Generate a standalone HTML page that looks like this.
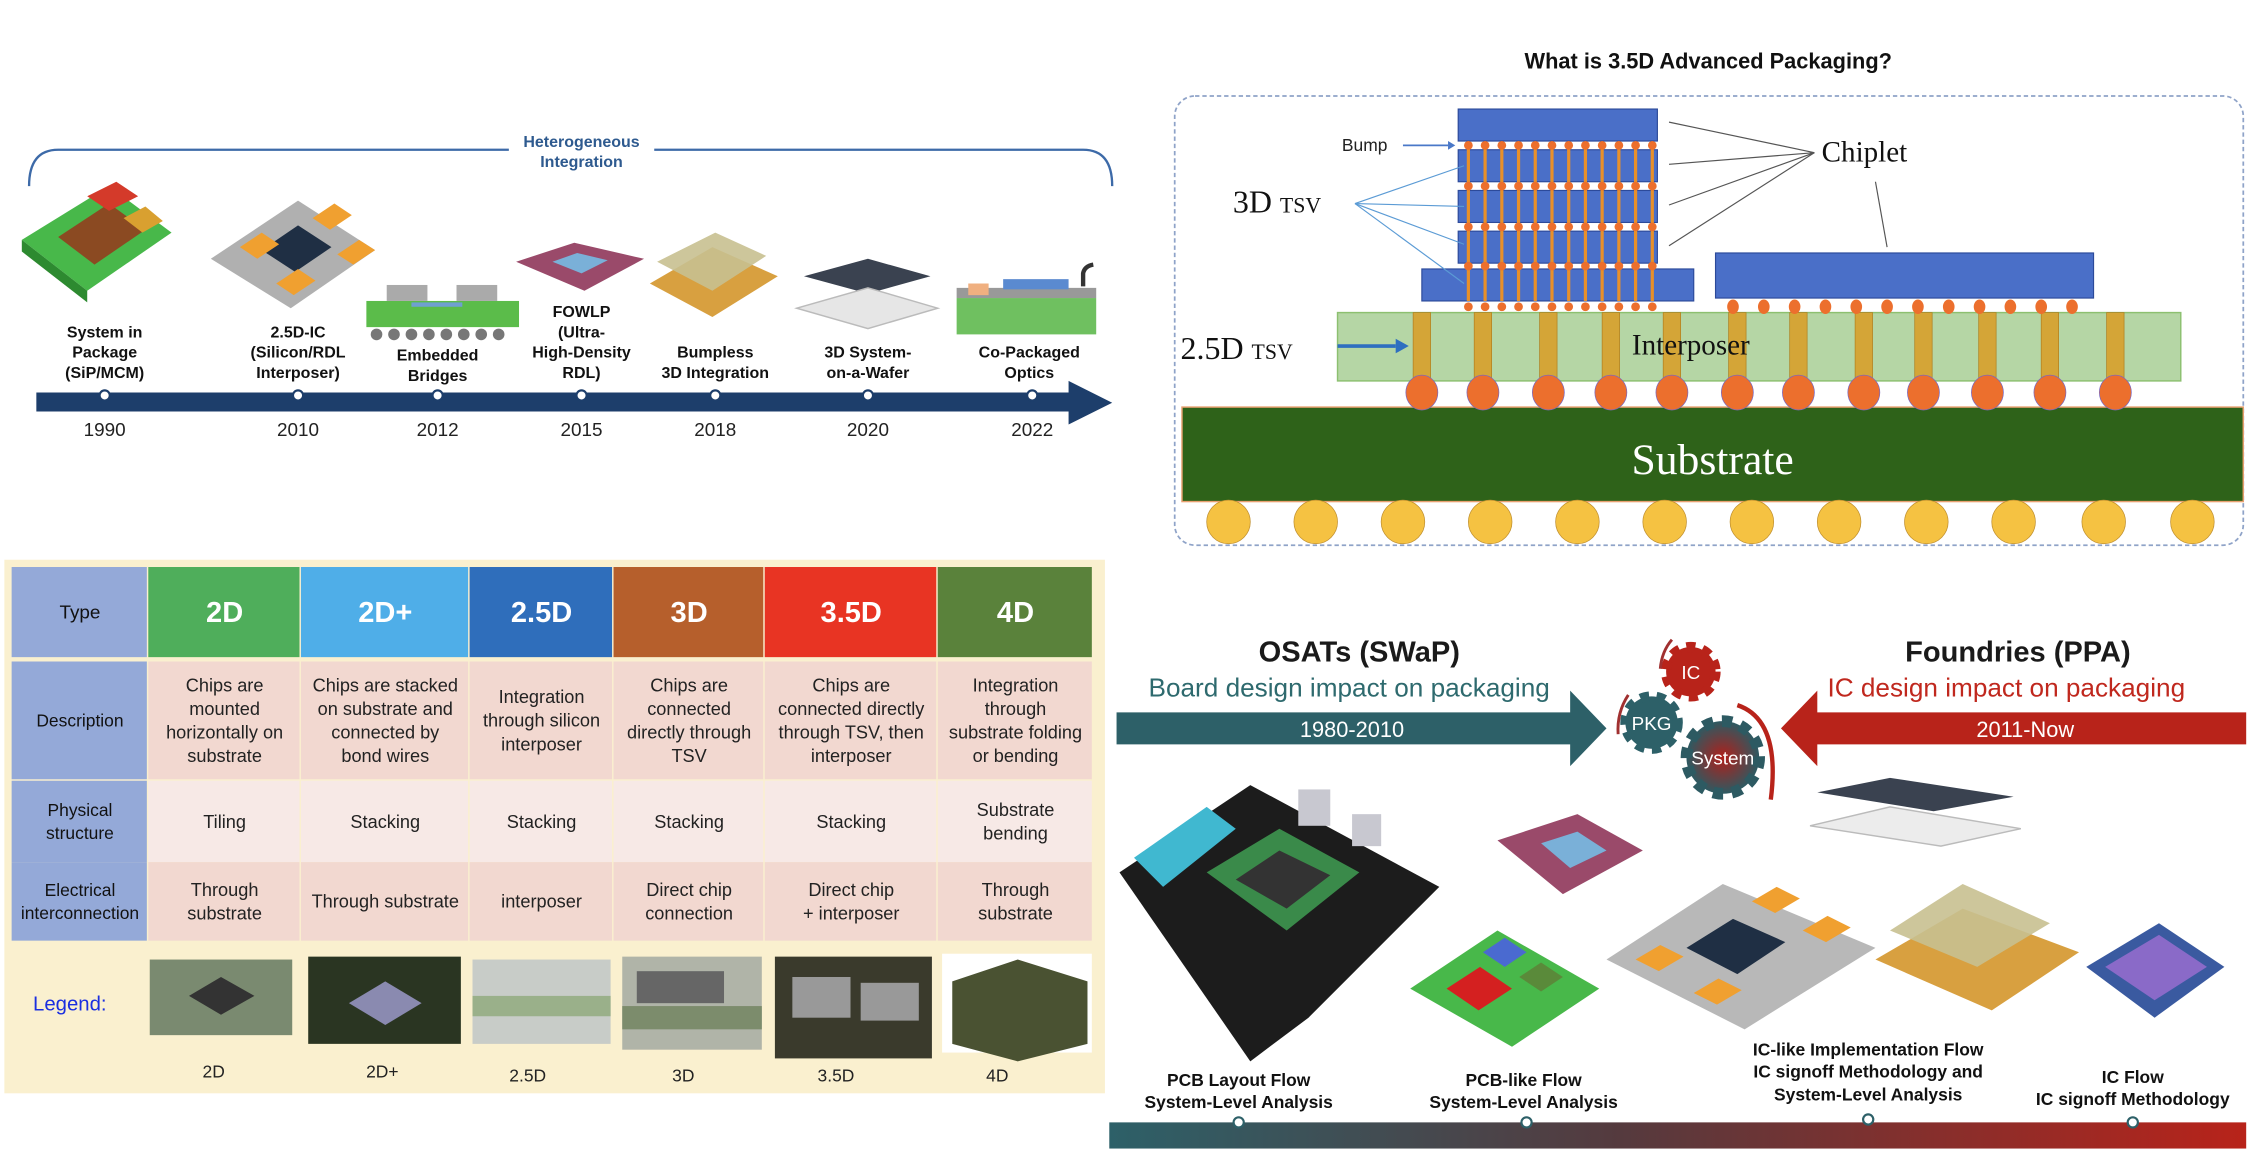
<!DOCTYPE html>
<html><head><meta charset="utf-8"><style>
html,body{margin:0;padding:0;background:#fff;width:2268px;height:1158px;overflow:hidden}
svg{display:block}
text{font-family:"Liberation Sans",sans-serif}
.b{font-weight:bold}
.serif{font-family:"Liberation Serif",serif}
</style></head><body>
<svg id="root" width="2268" height="1158" viewBox="0 0 1560 796.5" xmlns="http://www.w3.org/2000/svg">
<defs>
<linearGradient id="barG" x1="0" x2="1"><stop offset="0" stop-color="#2d6068"/><stop offset="0.45" stop-color="#553a3e"/><stop offset="1" stop-color="#b8231a"/></linearGradient>
<radialGradient id="sysG"><stop offset="0" stop-color="#b01f1a"/><stop offset="1" stop-color="#2d5a62"/></radialGradient>
</defs>

<!-- ================= TIMELINE (top-left) ================= -->
<g>
<path d="M20,128 Q20,103 40,103 L350,103 M450,103 L745,103 Q765,103 765,128" fill="none" stroke="#3d6aa8" stroke-width="1.6"/>
<text x="400" y="101" text-anchor="middle" font-size="11" class="b" fill="#2e5a8f">Heterogeneous</text>
<text x="400" y="115" text-anchor="middle" font-size="11" class="b" fill="#2e5a8f">Integration</text>
<!-- images -->
<g><polygon points="15,165 75,128 118,160 60,200" fill="#48b84a"/><polygon points="40,163 75,140 100,158 65,182" fill="#8b4a22"/><polygon points="60,135 80,125 95,135 75,145" fill="#d43a2a"/><polygon points="85,150 100,142 112,152 98,160" fill="#d9a030"/><polygon points="15,165 60,200 60,208 15,173" fill="#2d8a30"/></g>
<g><polygon points="145,178 205,138 258,172 200,212" fill="#b0b0b0"/><polygon points="180,172 205,155 228,170 203,187" fill="#1f2f44"/><polygon points="165,170 180,160 192,168 177,178" fill="#f0a030"/><polygon points="215,150 230,140 242,148 227,158" fill="#f0a030"/><polygon points="232,175 247,165 258,172 243,182" fill="#f0a030"/><polygon points="190,195 205,185 217,193 202,203" fill="#f0a030"/></g>
<g><rect x="252" y="207" width="105" height="18" fill="#5bbc4a"/><rect x="266" y="196" width="28" height="11" fill="#aaa"/><rect x="314" y="196" width="28" height="11" fill="#aaa"/><rect x="283" y="208" width="35" height="3" fill="#6fa0d0"/><g fill="#777"><circle cx="259" cy="230" r="4"/><circle cx="271" cy="230" r="4"/><circle cx="283" cy="230" r="4"/><circle cx="295" cy="230" r="4"/><circle cx="307" cy="230" r="4"/><circle cx="319" cy="230" r="4"/><circle cx="331" cy="230" r="4"/><circle cx="343" cy="230" r="4"/></g></g>
<g><polygon points="355,180 395,167 443,178 402,200" fill="#9a4a6a"/><polygon points="380,180 397,174 418,179 400,188" fill="#7ab0d8"/></g>
<g><polygon points="447,195 490,170 535,190 490,218" fill="#d8a040"/><polygon points="452,180 492,160 527,176 490,200" fill="#c8c090" opacity="0.9"/></g>
<g><polygon points="553,190 597,178 640,190 597,202" fill="#3a4250"/><polygon points="548,212 597,198 645,212 597,226" fill="#e6e6e6" stroke="#bbb"/></g>
<g><rect x="658" y="205" width="96" height="25" fill="#6fc060"/><rect x="658" y="198" width="96" height="7" fill="#999"/><rect x="690" y="192" width="45" height="7" fill="#5a8ad0"/><rect x="666" y="195" width="14" height="8" fill="#f0b080"/><path d="M745,197 L745,188 Q746,183 752,182" stroke="#333" stroke-width="3" fill="none"/></g>
<!-- labels -->
<g font-size="11" class="b" fill="#111" text-anchor="middle">
<text x="72" y="232" class="b">System in</text><text x="72" y="246" class="b">Package</text><text x="72" y="260" class="b">(SiP/MCM)</text>
<text x="205" y="232" class="b">2.5D-IC</text><text x="205" y="246" class="b">(Silicon/RDL</text><text x="205" y="260" class="b">Interposer)</text>
<text x="301" y="248" class="b">Embedded</text><text x="301" y="262" class="b">Bridges</text>
<text x="400" y="218" class="b">FOWLP</text><text x="400" y="232" class="b">(Ultra-</text><text x="400" y="246" class="b">High-Density</text><text x="400" y="260" class="b">RDL)</text>
<text x="492" y="246" class="b">Bumpless</text><text x="492" y="260" class="b">3D Integration</text>
<text x="597" y="246" class="b">3D System-</text><text x="597" y="260" class="b">on-a-Wafer</text>
<text x="708" y="246" class="b">Co-Packaged</text><text x="708" y="260" class="b">Optics</text>
</g>
<polygon points="25,270 735,270 735,262 765,277 735,292 735,283 25,283" fill="#1d3e6b"/>
<g fill="#fff" stroke="#1d3e6b" stroke-width="1.5"><circle cx="72" cy="272" r="3.5"/><circle cx="205" cy="272" r="3.5"/><circle cx="301" cy="272" r="3.5"/><circle cx="400" cy="272" r="3.5"/><circle cx="492" cy="272" r="3.5"/><circle cx="597" cy="272" r="3.5"/><circle cx="710" cy="272" r="3.5"/></g>
<g font-size="13" fill="#222" text-anchor="middle">
<text x="72" y="300">1990</text><text x="205" y="300">2010</text><text x="301" y="300">2012</text><text x="400" y="300">2015</text><text x="492" y="300">2018</text><text x="597" y="300">2020</text><text x="710" y="300">2022</text>
</g>
</g>

<!-- ================= TABLE (bottom-left) ================= -->
<g>
<rect x="3" y="385" width="757" height="367" fill="#faf0cf"/>
<g id="tbl"></g>
<text x="48" y="695" font-size="14" fill="#1b2fe0" text-anchor="middle">Legend:</text>
<g>
<rect x="103" y="660" width="98" height="52" fill="#7a8a70"/><polygon points="130,685 152,672 175,685 152,698" fill="#333"/>
<rect x="212" y="658" width="105" height="60" fill="#2a3522"/><polygon points="240,690 265,675 290,690 265,705" fill="#8a8ab0"/>
<rect x="325" y="660" width="95" height="58" fill="#c8ccc8"/><rect x="325" y="685" width="95" height="14" fill="#9ab08a"/>
<rect x="428" y="658" width="96" height="64" fill="#b0b4a8"/><rect x="438" y="668" width="60" height="22" fill="#666"/><rect x="428" y="692" width="96" height="16" fill="#7c8c6c"/>
<rect x="533" y="658" width="108" height="70" fill="#3a3a2c"/><rect x="545" y="672" width="40" height="28" fill="#999"/><rect x="592" y="676" width="40" height="26" fill="#999"/>
<rect x="648" y="656" width="103" height="68" fill="#fff"/><polygon points="655,675 700,660 748,675 748,718 700,730 655,718" fill="#4a5232"/>
</g>
<g font-size="12" fill="#222" text-anchor="middle">
<text x="147" y="741">2D</text><text x="263" y="741">2D+</text><text x="363" y="744">2.5D</text><text x="470" y="744">3D</text><text x="575" y="744">3.5D</text><text x="686" y="744">4D</text>
</g>
</g>

<!-- ================= 3.5D DIAGRAM (top-right) ================= -->
<g>
<text x="1175" y="47" text-anchor="middle" font-size="15" class="b" fill="#111">What is 3.5D Advanced Packaging?</text>
<rect x="808" y="66" width="735" height="309" rx="14" fill="none" stroke="#8fa3c8" stroke-dasharray="3,2" stroke-width="1.2"/>
<rect x="813" y="280" width="730" height="65" fill="#2e6219" stroke="#e8a070"/>
<text x="1178" y="326" text-anchor="middle" font-size="30" class="serif" fill="#fff">Substrate</text>
<rect x="920" y="215" width="580" height="47" fill="#b5d6a5" stroke="#8dc070"/>
<g id="diag"></g>
<text x="1163" y="244" text-anchor="middle" font-size="20" class="serif" fill="#111">Interposer</text>
<text x="923" y="104" font-size="12" fill="#222">Bump</text>
<line x1="965" y1="100" x2="996" y2="100" stroke="#4a78c8" stroke-width="1.2"/><polygon points="996,97 1001,100 996,103" fill="#4a78c8"/>
<text x="848" y="146" font-size="22" class="serif" fill="#111">3D <tspan font-size="15">TSV</tspan></text>
<g stroke="#5b9bd5" stroke-width="0.8"><line x1="932" y1="140" x2="1007" y2="114"/><line x1="932" y1="140" x2="1007" y2="142"/><line x1="932" y1="140" x2="1007" y2="168"/><line x1="932" y1="140" x2="1007" y2="195"/></g>
<text x="1253" y="111" font-size="20" class="serif" fill="#111">Chiplet</text>
<g stroke="#555" stroke-width="0.8"><line x1="1248" y1="105" x2="1148" y2="84"/><line x1="1248" y1="105" x2="1148" y2="113"/><line x1="1248" y1="105" x2="1148" y2="141"/><line x1="1248" y1="105" x2="1148" y2="169"/><line x1="1290" y1="125" x2="1298" y2="170"/></g>
<text x="812" y="247" font-size="22" class="serif" fill="#111">2.5D <tspan font-size="15">TSV</tspan></text>
<line x1="920" y1="238" x2="960" y2="238" stroke="#2e6fc0" stroke-width="2.5"/><polygon points="960,233 969,238 960,243" fill="#2e6fc0"/>
</g>

<!-- ================= OSAT vs FOUNDRY (bottom-right) ================= -->
<g>
<text x="935" y="455" text-anchor="middle" font-size="20" class="b" fill="#1a1a1a">OSATs (SWaP)</text>
<text x="928" y="479" text-anchor="middle" font-size="18" fill="#2e6a6e">Board design impact on packaging</text>
<polygon points="768,490 1080,490 1080,475 1105,501 1080,527 1080,512 768,512" fill="#2d6068"/>
<text x="930" y="507" text-anchor="middle" font-size="15" fill="#fff">1980-2010</text>
<text x="1388" y="455" text-anchor="middle" font-size="20" class="b" fill="#1a1a1a">Foundries (PPA)</text>
<text x="1380" y="479" text-anchor="middle" font-size="18" fill="#c0281e">IC design impact on packaging</text>
<polygon points="1545,490 1250,490 1250,475 1225,501 1250,527 1250,512 1545,512" fill="#b8231a"/>
<text x="1393" y="507" text-anchor="middle" font-size="15" fill="#fff">2011-Now</text>
<g>
<circle cx="1163" cy="462" r="17" fill="#b8231a" stroke="#b8231a" stroke-width="7" stroke-dasharray="6,5"/>
<circle cx="1136" cy="497" r="18" fill="#2d6068" stroke="#2d6068" stroke-width="7" stroke-dasharray="6,5"/>
<circle cx="1185" cy="521" r="25" fill="url(#sysG)" stroke="#2d5a62" stroke-width="8" stroke-dasharray="7,6"/>
<path d="M1195,485 Q1225,495 1218,550" fill="none" stroke="#b8231a" stroke-width="3"/>
<path d="M1120,478 Q1112,490 1113,505" fill="none" stroke="#a03030" stroke-width="2"/>
<path d="M1142,460 Q1143,448 1150,440" fill="none" stroke="#a03030" stroke-width="2"/>
<text x="1163" y="467" text-anchor="middle" font-size="13" fill="#fff">IC</text>
<text x="1136" y="502" text-anchor="middle" font-size="13" fill="#fff">PKG</text>
<text x="1185" y="526" text-anchor="middle" font-size="13" fill="#fff">System</text>
</g>
<g>
<polygon points="770,600 860,540 990,610 900,700 860,730" fill="#1c1c1c"/>
<polygon points="780,590 830,555 850,570 800,610" fill="#40b8d0"/>
<polygon points="830,600 880,570 935,600 885,640" fill="#3a8a4a"/><polygon points="850,605 880,585 915,602 885,625" fill="#333"/>
<rect x="893" y="543" width="22" height="25" fill="#c8c8d0"/><rect x="930" y="560" width="20" height="22" fill="#c8c8d0"/>
</g>
<g><polygon points="970,680 1030,640 1100,680 1040,720" fill="#48b84a"/><polygon points="995,680 1018,665 1040,680 1017,695" fill="#d42020"/><polygon points="1020,655 1035,645 1050,655 1035,665" fill="#4a6ad0"/><polygon points="1045,672 1060,662 1075,672 1060,682" fill="#5a8a3a"/></g>
<g><polygon points="1030,578 1085,560 1130,585 1075,615" fill="#9a4a6a"/><polygon points="1060,580 1085,572 1105,585 1080,597" fill="#7ab0d8"/></g>
<g><polygon points="1250,545 1300,535 1385,548 1330,558" fill="#3a4250"/><polygon points="1245,568 1300,555 1390,570 1335,582" fill="#ececec" stroke="#bbb"/></g>
<g><polygon points="1105,660 1185,608 1290,652 1200,708" fill="#b8b8b8"/><polygon points="1160,652 1192,632 1228,648 1195,670" fill="#1f2f44"/><polygon points="1125,660 1142,650 1158,658 1141,668" fill="#f0a030"/><polygon points="1205,620 1222,610 1238,618 1221,628" fill="#f0a030"/><polygon points="1240,640 1257,630 1273,638 1256,648" fill="#f0a030"/><polygon points="1165,683 1182,673 1198,681 1181,691" fill="#f0a030"/></g>
<g><polygon points="1290,660 1350,625 1430,655 1370,695" fill="#d8a040"/><polygon points="1300,640 1350,608 1410,635 1360,665" fill="#c8c090" opacity="0.9"/></g>
<g><polygon points="1435,665 1485,635 1530,665 1482,700" fill="#3a5aa0"/><polygon points="1448,665 1485,643 1518,665 1482,688" fill="#8a6ac8"/></g>
<g font-size="12" class="b" fill="#111" text-anchor="middle">
<text x="852" y="747" class="b">PCB Layout Flow</text><text x="852" y="762" class="b">System-Level Analysis</text>
<text x="1048" y="747" class="b">PCB-like Flow</text><text x="1048" y="762" class="b">System-Level Analysis</text>
<text x="1285" y="726" class="b">IC-like Implementation Flow</text><text x="1285" y="741" class="b">IC signoff Methodology and</text><text x="1285" y="757" class="b">System-Level Analysis</text>
<text x="1467" y="745" class="b">IC Flow</text><text x="1467" y="760" class="b">IC signoff Methodology</text>
</g>
<rect x="763" y="772" width="782" height="18" fill="url(#barG)"/>
<g fill="#fff" stroke="#2d6068" stroke-width="1.5"><circle cx="852" cy="772" r="3.5"/><circle cx="1050" cy="772" r="3.5"/><circle cx="1285" cy="770" r="3.5"/><circle cx="1467" cy="772" r="3.5"/></g>
</g>
</svg>
<script>
var NS="http://www.w3.org/2000/svg";
function mk(p,tag,a,txt){var e=document.createElementNS(NS,tag);for(var k in a)e.setAttribute(k,a[k]);if(txt!==undefined)e.textContent=txt;p.appendChild(e);return e;}
var cols=[8,102,207,323,422,526,645,752];
var rows=[[390,452],[455,536],[537,593],[593,647]];
var headers=["2D","2D+","2.5D","3D","3.5D","4D"];
var hcol=["#4fae5b","#4faee8","#2f6ebb","#b65f2c","#e83423","#5a823b"];
var rowLabels=[["Type"],["Description"],["Physical","structure"],["Electrical","interconnection"]];
var rowFill=["","#f2d8d0","#f7e9e6","#f2d8d0"];
var cells=[
[["Chips are","mounted","horizontally on","substrate"],["Chips are stacked","on substrate and","connected by","bond wires"],["Integration","through silicon","interposer"],["Chips are","connected","directly through","TSV"],["Chips are","connected directly","through TSV, then","interposer"],["Integration","through","substrate folding","or bending"]],
[["Tiling"],["Stacking"],["Stacking"],["Stacking"],["Stacking"],["Substrate","bending"]],
[["Through","substrate"],["Through substrate"],["interposer"],["Direct chip","connection"],["Direct chip","+ interposer"],["Through","substrate"]]];
var tbl=document.getElementById("tbl");
function lines(g,cx,cy,arr,fs,col){var lh=fs*1.3;var y0=cy-(arr.length-1)*lh/2+fs*0.35;arr.forEach(function(s,i){var t=mk(g,"text",{x:cx,y:y0+i*lh,"text-anchor":"middle","font-size":fs,fill:col},s);});}
for(var r=0;r<4;r++){
  var y0=rows[r][0],y1=rows[r][1];
  var lc=mk(tbl,"rect",{x:cols[0],y:y0,width:cols[1]-cols[0]-1,height:y1-y0,fill:"#94a9d8"});
  
  
  lines(tbl,(cols[0]+cols[1])/2,(y0+y1)/2,rowLabels[r],r==0?13:12,"#111");
  for(var c=0;c<6;c++){
    var x0=cols[c+1],x1=cols[c+2];
    var rc=mk(tbl,"rect",{x:x0,y:y0,width:x1-x0-1,height:y1-y0,fill:r==0?hcol[c]:rowFill[r]});
    
    
    if(r==0){var t=mk(tbl,"text",{x:(x0+x1)/2,y:(y0+y1)/2+7,"text-anchor":"middle","font-size":20,"font-weight":"bold",fill:"#fff"},headers[c]);
      
      }
    else lines(tbl,(x0+x1)/2,(y0+y1)/2,cells[r-1][c],12.5,"#222");
  }
}
var d=document.getElementById("diag");
// interposer TSVs and bumps
var pillars=[978,1020,1065,1108,1150,1195,1237,1282,1323,1367,1410,1455];
pillars.forEach(function(x){
  var p=mk(d,"rect",{x:x-6,y:215,width:12,height:45,fill:"#d4a537",stroke:"#b08020","stroke-width":0.5});
  
  
  var b=mk(d,"ellipse",{cx:x,cy:270,rx:11,ry:12,fill:"#ec6f2d",stroke:"#7a68c0","stroke-width":0.5});
  
  
});
var balls=[845,905,965,1025,1085,1145,1205,1265,1325,1385,1447,1508];
balls.forEach(function(x){
  var b=mk(d,"ellipse",{cx:x,cy:359,rx:15,ry:15,fill:"#f5c242",stroke:"#c09030","stroke-width":0.5});
  
  
});
// chiplets
var chips=[[1003,75,137,22],[1003,103,137,22],[1003,131,137,22],[1003,159,137,22],[978,185,187,22],[1180,174,260,31]];
chips.forEach(function(c){
  var r=mk(d,"rect",{x:c[0],y:c[1],width:c[2],height:c[3],fill:"#4a6fc8",stroke:"#2c4a9a","stroke-width":0.8});
  
  
});
for(var i=0;i<12;i++){
  var x=1010+i*11.5;
  var l=mk(d,"line",{x1:x,y1:100,x2:x,y2:207,stroke:"#e8902a","stroke-width":2.2});
  
  
  [100,128,156,183,211].forEach(function(y){
    var b=mk(d,"circle",{cx:x,cy:y,r:3,fill:"#ec6f2d"});
    
    
  });
}
for(var j=0;j<12;j++){
  var bx=1192+j*21.2;
  var b2=mk(d,"ellipse",{cx:bx,cy:211,rx:4,ry:5,fill:"#ec6f2d"});
  
  
}
</script>
</body></html>
